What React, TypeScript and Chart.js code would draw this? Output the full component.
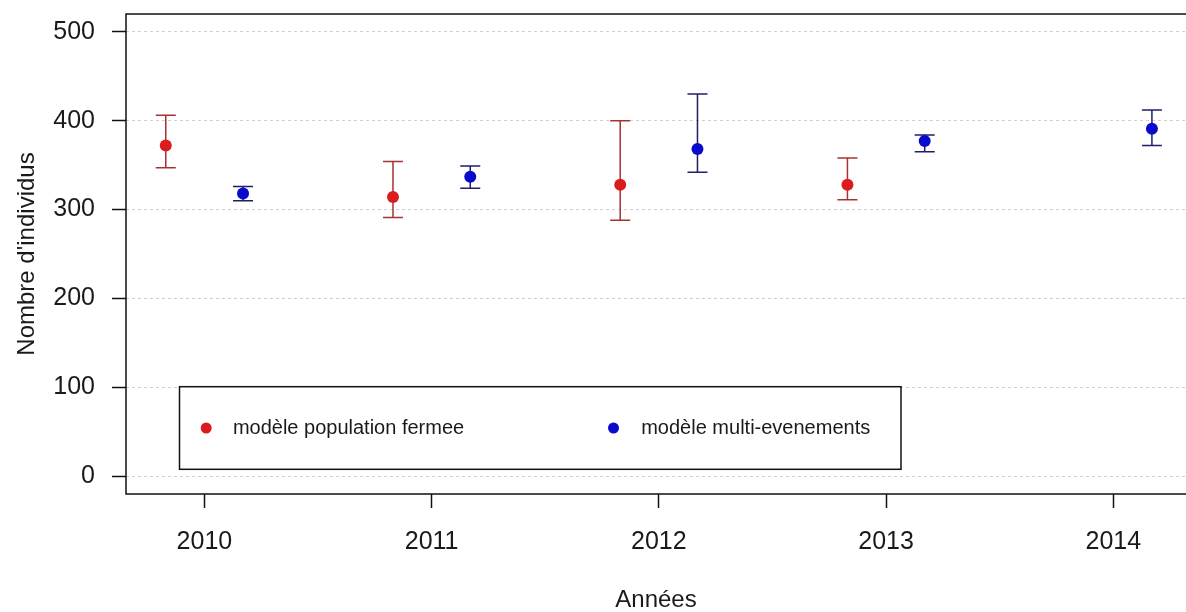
import React, { useEffect, useRef } from "react";
import { Chart, registerables } from "chart.js";

Chart.register(...registerables);

// ---- Data ----
const tickYears = [2010, 2011, 2012, 2013, 2014];
const closedYears = [2010, 2011, 2012, 2013];
const closedEst = [372, 314, 328, 328];
const closedLow = [347, 291, 288, 311];
const closedHigh = [406, 354, 400, 358];
const multiYears = [2010, 2011, 2012, 2013, 2014];
const multiEst = [318, 337, 368, 377, 391];
const multiLow = [310, 324, 342, 365, 372];
const multiHigh = [326, 349, 430, 384, 412];
const yTicks = [0, 100, 200, 300, 400, 500];
const seriesLabels = ["modèle population fermee", "modèle multi-evenements"];
const xTitle = "Années";
const yTitle = "Nombre d'individus";

const FONT = "'Liberation Sans', Arial, Helvetica, sans-serif";
const DODGE = 0.17;

const redPoint = "#dc1c1c";
const redBar = "#a83232";
const bluePoint = "#0a0acc";
const blueBar = "#1f1f66";

const zeroPad = (axis: any) => {
  axis.paddingTop = 0;
  axis.paddingBottom = 0;
  axis.paddingLeft = 0;
  axis.paddingRight = 0;
};

const errorBarsPlugin = {
  id: "errorBars",
  beforeDatasetsDraw(chart: any) {
    const { ctx, scales } = chart;
    const x = scales.x;
    const y = scales.y;
    chart.data.datasets.forEach((ds: any) => {
      ctx.save();
      ctx.strokeStyle = ds.barColor;
      ctx.lineWidth = 1.5;
      ds.data.forEach((pt: any) => {
        const px = x.getPixelForValue(pt.x);
        const pl = y.getPixelForValue(pt.lo);
        const ph = y.getPixelForValue(pt.hi);
        ctx.beginPath();
        ctx.moveTo(px, pl);
        ctx.lineTo(px, ph);
        ctx.moveTo(px - 10, pl);
        ctx.lineTo(px + 10, pl);
        ctx.moveTo(px - 10, ph);
        ctx.lineTo(px + 10, ph);
        ctx.stroke();
      });
      ctx.restore();
    });
  },
};

const framePlugin = {
  id: "frame",
  afterDatasetsDraw(chart: any) {
    const { ctx, chartArea } = chart;
    const { left, top, right, bottom } = chartArea;
    ctx.save();
    ctx.strokeStyle = "#111";
    ctx.lineWidth = 1.5;
    ctx.beginPath();
    ctx.moveTo(right + 2, top);
    ctx.lineTo(left, top);
    ctx.lineTo(left, bottom);
    ctx.lineTo(right + 2, bottom);
    ctx.stroke();
    ctx.restore();
  },
};

const boxLegendPlugin = {
  id: "boxLegend",
  afterDraw(chart: any) {
    const { ctx, chartArea } = chart;
    const bx = chartArea.left + 53.5;
    const by = 386.7;
    const bw = 721.5;
    const bh = 82.6;
    ctx.save();
    ctx.fillStyle = "#fff";
    ctx.fillRect(bx, by, bw, bh);
    ctx.strokeStyle = "#111";
    ctx.lineWidth = 1.5;
    ctx.strokeRect(bx, by, bw, bh);
    const cy = by + bh / 2;
    const entries = [
      { dot: bx + 26.7, text: bx + 53.4 },
      { dot: bx + 434, text: bx + 461.7 },
    ];
    chart.data.datasets.forEach((ds: any, i: number) => {
      const e = entries[i];
      ctx.fillStyle = ds.backgroundColor;
      ctx.beginPath();
      ctx.arc(e.dot, cy, 5.5, 0, Math.PI * 2);
      ctx.fill();
      ctx.fillStyle = "#1a1a1a";
      ctx.font = `20px ${FONT}`;
      ctx.textBaseline = "middle";
      ctx.textAlign = "left";
      ctx.fillText(ds.label, e.text, cy);
    });
    ctx.restore();
  },
};

export default function App() {
  const ref = useRef<HTMLCanvasElement | null>(null);

  useEffect(() => {
    if (!ref.current) return;
    const closedData = closedYears.map((yr, i) => ({
      x: yr - DODGE,
      y: closedEst[i],
      lo: closedLow[i],
      hi: closedHigh[i],
    }));
    const multiData = multiYears.map((yr, i) => ({
      x: yr + DODGE,
      y: multiEst[i],
      lo: multiLow[i],
      hi: multiHigh[i],
    }));

    const chart = new Chart(ref.current, {
      type: "scatter",
      data: {
        datasets: [
          {
            label: seriesLabels[0],
            data: closedData,
            backgroundColor: redPoint,
            borderColor: redPoint,
            pointRadius: 6,
            pointBorderWidth: 0,
            barColor: redBar,
          } as any,
          {
            label: seriesLabels[1],
            data: multiData,
            backgroundColor: bluePoint,
            borderColor: bluePoint,
            pointRadius: 6,
            pointBorderWidth: 0,
            barColor: blueBar,
          } as any,
        ],
      },
      options: {
        animation: false,
        responsive: false,
        devicePixelRatio: 1,
        layout: { autoPadding: false, padding: { top: 14, left: 0, right: 0, bottom: 0 } },
        plugins: {
          legend: { display: false },
          tooltip: { enabled: false },
        },
        scales: {
          x: {
            type: "linear",
            min: 2009.655,
            max: 2014.32,
            afterBuildTicks: (axis: any) => {
              axis.ticks = tickYears.map((v) => ({ value: v }));
            },
            afterFit: (axis: any) => {
              axis.height = 118;
              zeroPad(axis);
            },
            border: { display: false },
            grid: {
              drawOnChartArea: false,
              drawTicks: true,
              tickLength: 14,
              tickWidth: 1.5,
              tickColor: "#111",
              color: "#111",
            },
            ticks: {
              padding: 19,
              color: "#1a1a1a",
              font: { family: FONT, size: 25 },
              maxRotation: 0,
              autoSkip: false,
              callback: (v: any) => String(v),
            },
            title: {
              display: true,
              text: xTitle,
              color: "#1a1a1a",
              font: { family: FONT, size: 24, lineHeight: 1 },
              padding: { top: 0, bottom: 0 },
            },
          },
          y: {
            type: "linear",
            min: -20,
            max: 520,
            afterBuildTicks: (axis: any) => {
              axis.ticks = yTicks.map((v) => ({ value: v }));
            },
            afterFit: (axis: any) => {
              axis.width = 126;
              zeroPad(axis);
            },
            border: { display: false, dash: [3, 3] },
            grid: {
              drawOnChartArea: true,
              drawTicks: true,
              tickLength: 14,
              tickWidth: 1.5,
              tickColor: "#111",
              color: "#cfcfcf",
              lineWidth: 1,
            },
            ticks: {
              padding: 17,
              color: "#1a1a1a",
              font: { family: FONT, size: 25 },
              autoSkip: false,
              callback: (v: any) => String(v),
            },
            title: {
              display: true,
              text: yTitle,
              color: "#1a1a1a",
              font: { family: FONT, size: 24, lineHeight: 1 },
              padding: { top: 15, bottom: 0 },
            },
          },
        },
      },
      plugins: [errorBarsPlugin, framePlugin, boxLegendPlugin],
    });

    return () => chart.destroy();
  }, []);

  return (
    <div
      style={{
        position: "fixed",
        left: 0,
        top: 0,
        width: 1186,
        height: 612,
        background: "#fff",
        overflow: "hidden",
      }}
    >
      <canvas ref={ref} width={1186} height={612} style={{ display: "block" }} />
    </div>
  );
}
